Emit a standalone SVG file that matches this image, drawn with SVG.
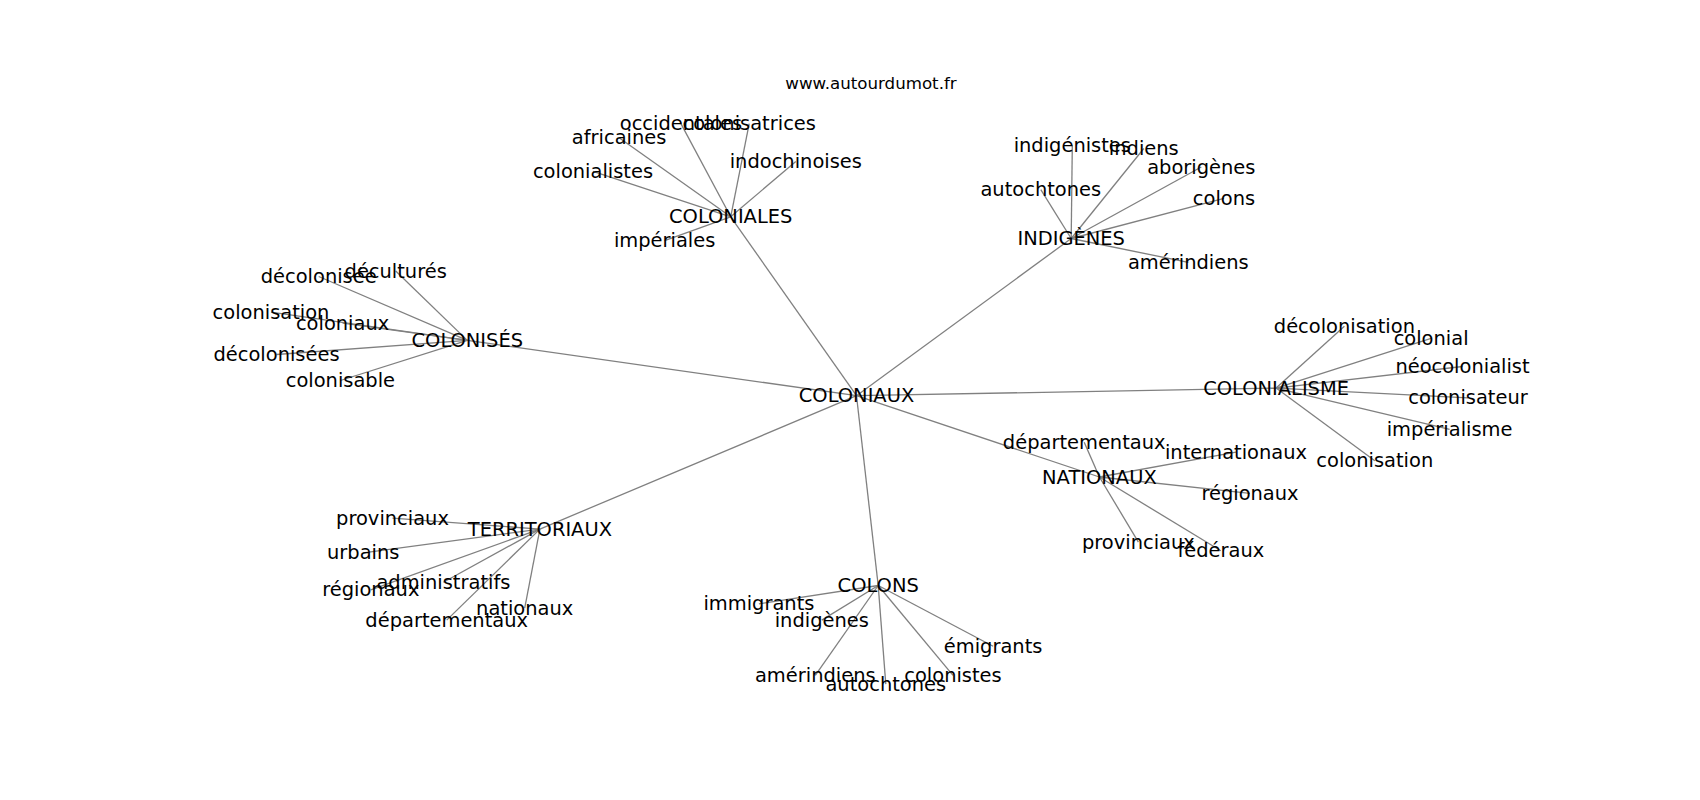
<svg xmlns="http://www.w3.org/2000/svg" width="1700" height="800" viewBox="0 0 1700 800">
<style>
.e{stroke:#808080;stroke-width:1.3;fill:none}
text{font-family:"DejaVu Sans","Liberation Sans",sans-serif;fill:#000}
.n text{font-size:19.44px;text-anchor:middle}
.t{font-size:16.67px;text-anchor:middle}
</style>
<rect width="1700" height="800" fill="#fff"/>
<text class="t" x="871" y="88.5">www.autourdumot.fr</text>
<g id="edges">
<line class="e" x1="856.5" y1="395.7" x2="730.7" y2="216.8"/>
<line class="e" x1="856.5" y1="395.7" x2="1071.2" y2="238.5"/>
<line class="e" x1="856.5" y1="395.7" x2="467.3" y2="340.4"/>
<line class="e" x1="856.5" y1="395.7" x2="1276.1" y2="388.1"/>
<line class="e" x1="856.5" y1="395.7" x2="1099.4" y2="477"/>
<line class="e" x1="856.5" y1="395.7" x2="539.9" y2="529.1"/>
<line class="e" x1="856.5" y1="395.7" x2="878.2" y2="585.5"/>
<line class="e" x1="730.7" y1="216.8" x2="680.9" y2="123.6"/>
<line class="e" x1="730.7" y1="216.8" x2="749.2" y2="123.6"/>
<line class="e" x1="730.7" y1="216.8" x2="619.1" y2="137.7"/>
<line class="e" x1="730.7" y1="216.8" x2="593" y2="171.3"/>
<line class="e" x1="730.7" y1="216.8" x2="795.8" y2="161.5"/>
<line class="e" x1="730.7" y1="216.8" x2="664.6" y2="240.7"/>
<line class="e" x1="1071.2" y1="238.5" x2="1072.3" y2="145.3"/>
<line class="e" x1="1071.2" y1="238.5" x2="1143.8" y2="148.5"/>
<line class="e" x1="1071.2" y1="238.5" x2="1201.3" y2="167"/>
<line class="e" x1="1071.2" y1="238.5" x2="1224" y2="198.4"/>
<line class="e" x1="1071.2" y1="238.5" x2="1040.8" y2="189.7"/>
<line class="e" x1="1071.2" y1="238.5" x2="1188.3" y2="262.4"/>
<line class="e" x1="467.3" y1="340.4" x2="318.7" y2="276.5"/>
<line class="e" x1="467.3" y1="340.4" x2="395.7" y2="271"/>
<line class="e" x1="467.3" y1="340.4" x2="271" y2="312.2"/>
<line class="e" x1="467.3" y1="340.4" x2="342.6" y2="323.1"/>
<line class="e" x1="467.3" y1="340.4" x2="276.5" y2="354.5"/>
<line class="e" x1="467.3" y1="340.4" x2="340.4" y2="380.5"/>
<line class="e" x1="1276.1" y1="388.1" x2="1344.4" y2="326.3"/>
<line class="e" x1="1276.1" y1="388.1" x2="1431.1" y2="338.3"/>
<line class="e" x1="1276.1" y1="388.1" x2="1462.5" y2="366.5"/>
<line class="e" x1="1276.1" y1="388.1" x2="1468" y2="397.9"/>
<line class="e" x1="1276.1" y1="388.1" x2="1449.6" y2="429.3"/>
<line class="e" x1="1276.1" y1="388.1" x2="1374.8" y2="460.8"/>
<line class="e" x1="1099.4" y1="477" x2="1084.2" y2="442.3"/>
<line class="e" x1="1099.4" y1="477" x2="1236" y2="452.1"/>
<line class="e" x1="1099.4" y1="477" x2="1250" y2="493.3"/>
<line class="e" x1="1099.4" y1="477" x2="1138.4" y2="542.1"/>
<line class="e" x1="1099.4" y1="477" x2="1220.8" y2="550.8"/>
<line class="e" x1="539.9" y1="529.1" x2="392.5" y2="518.2"/>
<line class="e" x1="539.9" y1="529.1" x2="363.2" y2="552.9"/>
<line class="e" x1="539.9" y1="529.1" x2="443.4" y2="582.2"/>
<line class="e" x1="539.9" y1="529.1" x2="370.8" y2="589.8"/>
<line class="e" x1="539.9" y1="529.1" x2="524.7" y2="608.2"/>
<line class="e" x1="539.9" y1="529.1" x2="446.7" y2="620.1"/>
<line class="e" x1="878.2" y1="585.5" x2="758.9" y2="603.9"/>
<line class="e" x1="878.2" y1="585.5" x2="821.8" y2="620.1"/>
<line class="e" x1="878.2" y1="585.5" x2="993.1" y2="646.2"/>
<line class="e" x1="878.2" y1="585.5" x2="815.3" y2="675.4"/>
<line class="e" x1="878.2" y1="585.5" x2="885.8" y2="684.1"/>
<line class="e" x1="878.2" y1="585.5" x2="953" y2="675.4"/>
</g>
<g class="n">
<g id="n-coloniaux"><text x="856.5" y="402.2">COLONIAUX</text></g>
<g id="n-coloniales"><text x="730.7" y="223.3">COLONIALES</text></g>
<g id="n-occidentales"><text x="680.9" y="130.1">occidentales</text></g>
<g id="n-colonisatrices"><text x="749.2" y="130.1">colonisatrices</text></g>
<g id="n-africaines"><text x="619.1" y="144.2">africaines</text></g>
<g id="n-colonialistes"><text x="593" y="177.8">colonialistes</text></g>
<g id="n-indochinoises"><text x="795.8" y="168">indochinoises</text></g>
<g id="n-imperiales"><text x="664.6" y="247.2">impériales</text></g>
<g id="n-indigenes"><text x="1071.2" y="245">INDIGÈNES</text></g>
<g id="n-indigenistes"><text x="1072.3" y="151.8">indigénistes</text></g>
<g id="n-indiens"><text x="1143.8" y="155">indiens</text></g>
<g id="n-aborigenes"><text x="1201.3" y="173.5">aborigènes</text></g>
<g id="n-colons-1"><text x="1224" y="204.9">colons</text></g>
<g id="n-autochtones-1"><text x="1040.8" y="196.2">autochtones</text></g>
<g id="n-amerindiens-1"><text x="1188.3" y="268.9">amérindiens</text></g>
<g id="n-colonises"><text x="467.3" y="346.9">COLONISÉS</text></g>
<g id="n-decolonisee"><text x="318.7" y="283">décolonisée</text></g>
<g id="n-decultures"><text x="395.7" y="277.5">déculturés</text></g>
<g id="n-colonisation-1"><text x="271" y="318.7">colonisation</text></g>
<g id="n-coloniaux-2"><text x="342.6" y="329.6">coloniaux</text></g>
<g id="n-decolonisees"><text x="276.5" y="361">décolonisées</text></g>
<g id="n-colonisable"><text x="340.4" y="387">colonisable</text></g>
<g id="n-colonialisme"><text x="1276.1" y="394.6">COLONIALISME</text></g>
<g id="n-decolonisation"><text x="1344.4" y="332.8">décolonisation</text></g>
<g id="n-colonial"><text x="1431.1" y="344.8">colonial</text></g>
<g id="n-neocolonialist"><text x="1462.5" y="373">néocolonialist</text></g>
<g id="n-colonisateur"><text x="1468" y="404.4">colonisateur</text></g>
<g id="n-imperialisme"><text x="1449.6" y="435.8">impérialisme</text></g>
<g id="n-colonisation-2"><text x="1374.8" y="467.3">colonisation</text></g>
<g id="n-nationaux"><text x="1099.4" y="483.5">NATIONAUX</text></g>
<g id="n-departementaux-1"><text x="1084.2" y="448.8">départementaux</text></g>
<g id="n-internationaux"><text x="1236" y="458.6">internationaux</text></g>
<g id="n-regionaux-1"><text x="1250" y="499.8">régionaux</text></g>
<g id="n-provinciaux-1"><text x="1138.4" y="548.6">provinciaux</text></g>
<g id="n-federaux"><text x="1220.8" y="557.3">fédéraux</text></g>
<g id="n-territoriaux"><text x="539.9" y="535.6">TERRITORIAUX</text></g>
<g id="n-provinciaux-2"><text x="392.5" y="524.7">provinciaux</text></g>
<g id="n-urbains"><text x="363.2" y="559.4">urbains</text></g>
<g id="n-administratifs"><text x="443.4" y="588.7">administratifs</text></g>
<g id="n-regionaux-2"><text x="370.8" y="596.3">régionaux</text></g>
<g id="n-nationaux-2"><text x="524.7" y="614.7">nationaux</text></g>
<g id="n-departementaux-2"><text x="446.7" y="626.6">départementaux</text></g>
<g id="n-colons"><text x="878.2" y="592">COLONS</text></g>
<g id="n-immigrants"><text x="758.9" y="610.4">immigrants</text></g>
<g id="n-indigenes-2"><text x="821.8" y="626.6">indigènes</text></g>
<g id="n-emigrants"><text x="993.1" y="652.7">émigrants</text></g>
<g id="n-amerindiens-2"><text x="815.3" y="681.9">amérindiens</text></g>
<g id="n-autochtones-2"><text x="885.8" y="690.6">autochtones</text></g>
<g id="n-colonistes"><text x="953" y="681.9">colonistes</text></g>
</g>
</svg>
